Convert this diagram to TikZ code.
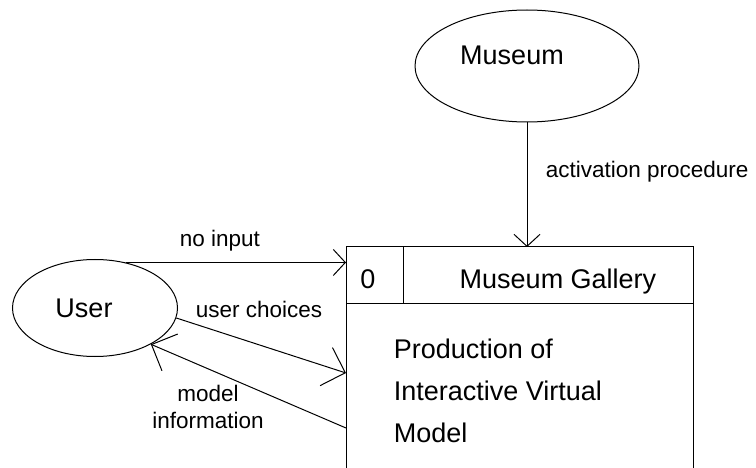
\documentclass[tikz,border=0pt]{standalone}
\usepackage{fontspec}
\setmainfont{Liberation Sans}
\usetikzlibrary{shapes.geometric,arrows.meta}

\begin{document}
\begin{tikzpicture}[x=1pt,y=-1pt,line width=1pt,
  entity/.style={draw,ellipse,inner sep=0pt},
  flow/.style={-{Straight Barb[length=12pt,width=26pt]}},
  bigflow/.style={-{Straight Barb[length=20pt,width=40pt]}},
  big/.style={font=\fontsize{27}{42}\selectfont},
  small/.style={font=\fontsize{22.5}{27}\selectfont}]
  \useasboundingbox (0,0) rectangle (756,468);
  \clip (0,0) rectangle (756,468);

  % external entities
  \node [entity,minimum width=224pt,minimum height=112pt] (museum) at (527,66) {};
  \node [big] (museumtext) at (512,55) {Museum};
  \node [entity,minimum width=165pt,minimum height=97pt] (user) at (95,308) {};
  \node [big] (usertext) at (84,308) {User};

  % process box, open at the bottom
  \coordinate (pnw) at (346,247);
  \coordinate (pne) at (693,247);
  \coordinate (psw) at (346,475);
  \coordinate (pse) at (693,475);
  \coordinate (hw) at (346,303);
  \coordinate (he) at (693,303);
  \coordinate (dt) at (403,247);
  \coordinate (db) at (403,303);
  \draw (psw) -- (pnw) -- (pne) -- (pse);
  \draw (hw) -- (he);
  \draw (dt) -- (db);
  \node [big,anchor=base] (pid) at (368,288) {0};
  \node [big,anchor=base] (pname) at (558,288) {Museum Gallery};
  \node [big,anchor=base west,align=left] (pbody) at (390,442)
    {Production of\\Interactive Virtual\\Model};

  % flows
  \coordinate (in2) at (346,373);
  \coordinate (out1) at (346,428);
  \draw [flow] (museum.south) -- (museum.south |- pnw);
  \draw [flow] (user.56) -- (user.56 -| pnw);
  \draw [bigflow] (user.-7) -- (in2);
  \draw [bigflow] (out1) -- (user.-33);

  \node [small,anchor=base west] (activation) at (542,178) {activation procedure};
  \node [small,anchor=base] (noinput) at (220,247) {no input};
  \node [small,anchor=base] (choices) at (259,317) {user choices};
  \node [small,anchor=base,align=center] (modelinfo) at (208,428)
    {model\\information};
\end{tikzpicture}
\end{document}
